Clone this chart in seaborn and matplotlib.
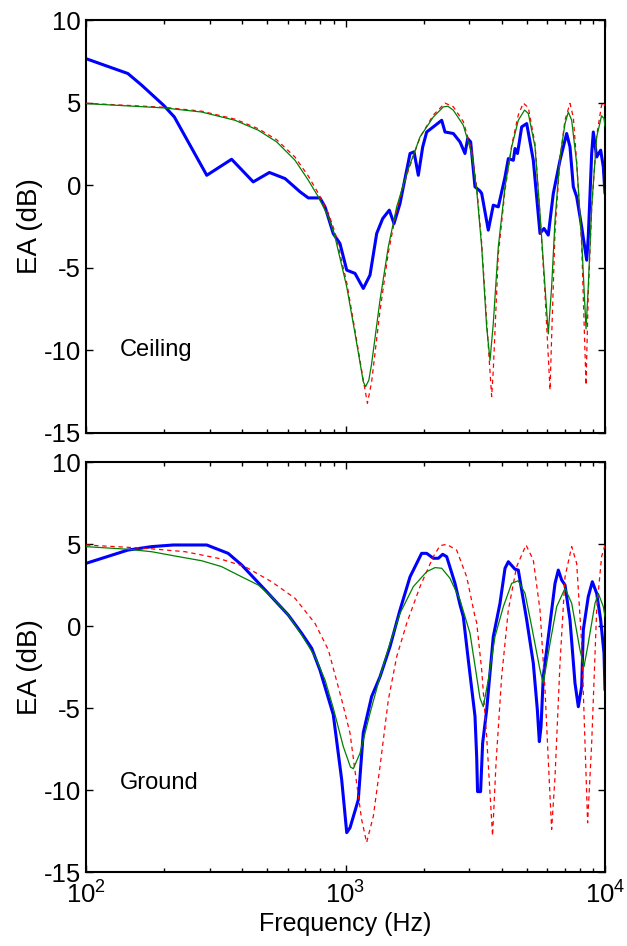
import matplotlib
matplotlib.use("Agg")
import matplotlib.pyplot as plt
import seaborn as sns
import pandas as pd
from matplotlib.ticker import LogLocator, FixedLocator, NullFormatter

# ---------------- data ----------------
ceil_meas_f = [100, 145, 164, 199, 219, 292, 364, 441, 509, 585, 668, 719, 797, 834, 897, 952,
               1011, 1088, 1171, 1243, 1319, 1391, 1475, 1538, 1622, 1721, 1773, 1837, 1908, 1984,
               2055, 2180, 2348, 2418, 2603, 2762, 2887, 2957, 3036, 3155, 3298, 3348, 3550, 3711,
               3880, 4118, 4241, 4434, 4501, 4600, 4775, 4992, 5293, 5617, 5820, 6045, 6321, 6708,
               7116, 7330, 7550, 7778, 8130, 8500, 8620, 8885, 9015, 9288, 9623, 9851, 10000]
ceil_meas_db = [7.66, 6.76, 6.05, 4.84, 4.13, 0.6, 1.57, 0.2, 0.77, 0.4, -0.4, -0.77, -0.77, -1.31, -2.93, -3.53,
                -5.14, -5.34, -6.25, -5.44, -2.92, -2.02, -1.51, -2.32, -1.11, 0.91, 1.92, 2.02, 0.6, 2.32,
                3.22, 3.53, 3.93, 3.22, 3.13, 2.62, 1.92, 2.82, 2.62, -0.1, -0.35, -0.5, -2.72, -1.21,
                -1.31, 0.5, 1.61, 1.51, 2.22, 1.92, 3.53, 3.73, 1.51, -2.92, -2.62, -3.02, -0.5, 1.51,
                3.13, 2.32, -0.1, -0.7, -2.52, -4.54, -3.13, 1.92, 3.22, 1.71, 2.12, 1.11, -0.5]

ceil_modA_f = [100, 199, 279, 375, 461, 543, 639, 719, 786, 859, 911, 1011, 1088, 1171, 1195, 1230,
               1261, 1358, 1462, 1575, 1721, 1937, 2180, 2382, 2480, 2603, 2844, 3064, 3203, 3348,
               3499, 3605, 3711, 3880, 4118, 4369, 4633, 4900, 5064, 5374, 5617, 5873, 6045, 6228,
               6418, 6708, 7013, 7222, 7441, 7778, 8130, 8450, 8620, 8885, 9288, 9700, 9911, 10000]
ceil_modA_db = [4.94, 4.68, 4.43, 3.93, 3.33, 2.62, 1.51, 0.3, -0.71, -1.92, -3.13, -6.15, -8.97, -11.9, -12.2, -11.8,
                -10.8, -6.96, -3.73, -1.31, 0.71, 2.92, 4.13, 4.74, 4.78, 4.54, 3.63, 1.92, -0.3, -3.73,
                -8.57, -10.6, -8.37, -3.73, -0.1, 2.32, 3.93, 4.55, 4.34, 2.32, -1.71, -6.15, -9.0, -6.15,
                -2.12, 1.71, 3.73, 4.43, 3.93, 1.31, -3.33, -8.7, -6.15, -1.31, 2.92, 4.2, 4.04, 3.55]

ceil_modB_f = [100, 199, 279, 375, 461, 543, 639, 719, 786, 859, 911, 1011, 1088, 1171, 1215, 1261,
               1358, 1462, 1575, 1721, 1937, 2180, 2418, 2603, 2844, 3064, 3203, 3348, 3499, 3658,
               3711, 3880, 4118, 4369, 4633, 4844, 5064, 5374, 5617, 5873, 6140, 6228, 6418, 6708,
               7013, 7330, 7550, 7778, 8130, 8450, 8620, 8885, 9288, 9700, 9900, 10000]
ceil_modB_db = [4.96, 4.72, 4.48, 4.0, 3.42, 2.75, 1.7, 0.55, -0.5, -1.7, -2.85, -5.9, -8.8, -11.8, -13.2, -11.9,
                -7.6, -4.1, -1.5, 0.6, 2.9, 4.25, 4.97, 4.75, 3.85, 2.1, -0.1, -3.5, -8.2, -12.8,
                -11.2, -4.2, -0.3, 2.4, 4.25, 4.97, 4.7, 2.5, -1.8, -6.6, -12.4, -9.2, -2.8, 1.6,
                3.95, 4.95, 4.1, 1.4, -3.6, -12.1, -6.6, -1.4, 3.0, 4.85, 5.0, 4.8]

grnd_meas_f = [100, 145, 179, 217, 292, 353, 398, 490, 602, 678, 741, 797, 897, 967, 1011, 1041,
               1120, 1171, 1261, 1358, 1484, 1622, 1773, 1965, 2055, 2180, 2280, 2368, 2454, 2642,
               2762, 2844, 2973, 3155, 3203, 3228, 3316, 3376, 3499, 3711, 3938, 4118, 4241, 4501,
               4633, 4992, 5293, 5487, 5584, 5668, 5783, 6140, 6418, 6608, 6810, 7013, 7330, 7663,
               7893, 8130, 8249, 8620, 8937, 9288, 9623, 9911, 10000]
grnd_meas_db = [3.82, 4.63, 4.84, 4.94, 4.94, 4.43, 3.72, 2.2, 0.67, -0.45, -1.36, -2.68, -5.4, -9.39, -12.6, -12.3,
                -10.6, -6.5, -4.3, -3.1, -1.26, 0.98, 3.0, 4.43, 4.43, 4.13, 4.13, 4.37, 4.23, 2.6,
                1.3, 0.57, -2.07, -5.5, -8.0, -10.1, -10.1, -7.15, -5.12, -0.65, 1.38, 3.52, 3.92, 3.46,
                3.41, 0.37, -2.27, -5.12, -7.05, -6.14, -3.09, 0.16, 2.6, 3.41, 2.8, 2.5, 0.37, -3.49,
                -4.92, -3.7, -0.24, 1.79, 2.7, 1.99, 0.37, -1.66, -3.9]

grnd_modA_f = [100, 145, 179, 227, 279, 333, 398, 461, 519, 602, 678, 763, 834, 897, 981, 1045,
               1072, 1137, 1243, 1358, 1484, 1622, 1825, 2055, 2212, 2348, 2527, 2762, 3019, 3298,
               3396, 3550, 3767, 4057, 4369, 4633, 4919, 5218, 5617, 5783, 6140, 6512, 7013, 7441,
               8010, 8300, 8620, 9152, 9425, 9851, 10000]
grnd_modA_db = [4.84, 4.68, 4.53, 4.23, 3.98, 3.62, 3.0, 2.5, 1.79, 0.67, -0.55, -1.87, -3.29, -5.0, -7.36, -8.6,
                -8.7, -7.76, -5.32, -3.09, -1.05, 0.77, 2.4, 3.31, 3.56, 3.52, 2.91, 1.59, -0.45, -4.4,
                -4.92, -3.29, -0.65, 1.18, 2.6, 2.76, 1.99, -0.04, -2.68, -3.49, -1.05, 1.18, 2.3, 1.38,
                -1.46, -2.48, -1.05, 1.38, 1.99, 1.18, 0.57]

grnd_modB_f = [100, 169, 241, 323, 410, 519, 639, 763, 859, 967, 1041, 1104, 1154, 1206, 1280, 1358,
               1462, 1575, 1721, 1937, 2180, 2313, 2454, 2681, 2931, 3155, 3203, 3348, 3499, 3605,
               3687, 3802, 3997, 4241, 4566, 4962, 5293, 5617, 5873, 6045, 6228, 6418, 6708, 7013,
               7441, 7778, 8130, 8375, 8570, 8885, 9288, 9703, 10000]
grnd_modB_db = [4.94, 4.74, 4.53, 4.13, 3.62, 2.7, 1.69, 0.16, -1.46, -4.5, -6.54, -9.59, -11.8, -13.2, -11.6, -8.58,
                -4.51, -1.87, 0.16, 2.4, 4.23, 4.9, 4.98, 4.63, 3.0, 0.57, 0.2, -2.68, -6.75, -10.2,
                -12.8, -8.37, -3.09, 0.98, 3.62, 4.94, 4.02, 0.98, -3.9, -8.17, -12.4, -9.19, -2.27, 3.0,
                4.84, 3.82, -1.05, -7.15, -12.0, -7.15, 0.98, 4.23, 4.94]

panel_labels = ["Ceiling", "Ground"]
y_ticks = [-15, -10, -5, 0, 5, 10]
x_label = "Frequency (Hz)"
y_label = "EA (dB)"

# ---------------- style ----------------
sns.set_style("white")
plt.rcParams["font.family"] = ["Liberation Sans", "DejaVu Sans"]
plt.rcParams["mathtext.fontset"] = "custom"
plt.rcParams["mathtext.rm"] = "Liberation Sans"
plt.rcParams["mathtext.it"] = "Liberation Sans"
plt.rcParams["axes.unicode_minus"] = False
plt.rcParams["text.color"] = "black"
plt.rcParams["axes.labelcolor"] = "black"
plt.rcParams["xtick.color"] = "black"
plt.rcParams["ytick.color"] = "black"

fig = plt.figure(figsize=(6.27, 9.46), dpi=100)
W, H = 627.0, 946.0
ax1 = fig.add_axes([86 / W, 1 - 433 / H, 519 / W, 413 / H])
ax2 = fig.add_axes([86 / W, 1 - 872 / H, 519 / W, 410 / H])

panels = [
    (ax1, ceil_meas_f, ceil_meas_db, ceil_modA_f, ceil_modA_db, ceil_modB_f, ceil_modB_db, panel_labels[0], -10.0),
    (ax2, grnd_meas_f, grnd_meas_db, grnd_modA_f, grnd_modA_db, grnd_modB_f, grnd_modB_db, panel_labels[1], -9.6),
]

for ax, mf, md, af, ad, bf, bd, lab, ly in panels:
    dm = pd.DataFrame({"f": mf, "db": md})
    da = pd.DataFrame({"f": af, "db": ad})
    dbb = pd.DataFrame({"f": bf, "db": bd})
    sns.lineplot(data=dm, x="f", y="db", ax=ax, color="#0000ff", lw=2.2, sort=False, estimator=None, zorder=2)
    sns.lineplot(data=dbb, x="f", y="db", ax=ax, color="#ff0000", lw=0.9, sort=False, estimator=None,
                 linestyle=(0, (3.5, 3)), zorder=3)
    sns.lineplot(data=da, x="f", y="db", ax=ax, color="#008000", lw=0.9, sort=False, estimator=None, zorder=4)
    ax.set_xscale("log")
    ax.set_xlim(100, 10000)
    ax.set_ylim(-15, 10)
    ax.set_yticks(y_ticks)
    ax.xaxis.set_major_locator(FixedLocator([100, 1000, 10000]))
    ax.xaxis.set_minor_locator(LogLocator(base=10, subs=range(2, 10)))
    ax.xaxis.set_minor_formatter(NullFormatter())
    ax.tick_params(axis="both", which="both", direction="in", top=True, right=True,
                   bottom=True, left=True, colors="black", width=1.0, labelsize=18.5)
    ax.tick_params(which="major", length=5)
    ax.tick_params(which="minor", length=3)
    for s in ax.spines.values():
        s.set_visible(True)
        s.set_color("black")
        s.set_linewidth(1.5)
    ax.set_ylabel(y_label, fontsize=20, color="black")
    ax.yaxis.set_label_coords(-0.083, 0.5)
    ax.set_xlabel("")
    ax.text(135, ly, lab, fontsize=17, ha="left", va="center", color="black")
    ax.grid(False)

ax1.tick_params(labelbottom=False)
ax2.set_xlabel(x_label, fontsize=18, labelpad=2, color="black")
ax2.tick_params(axis="x", pad=7)

fig.savefig("out.png", dpi=100)
